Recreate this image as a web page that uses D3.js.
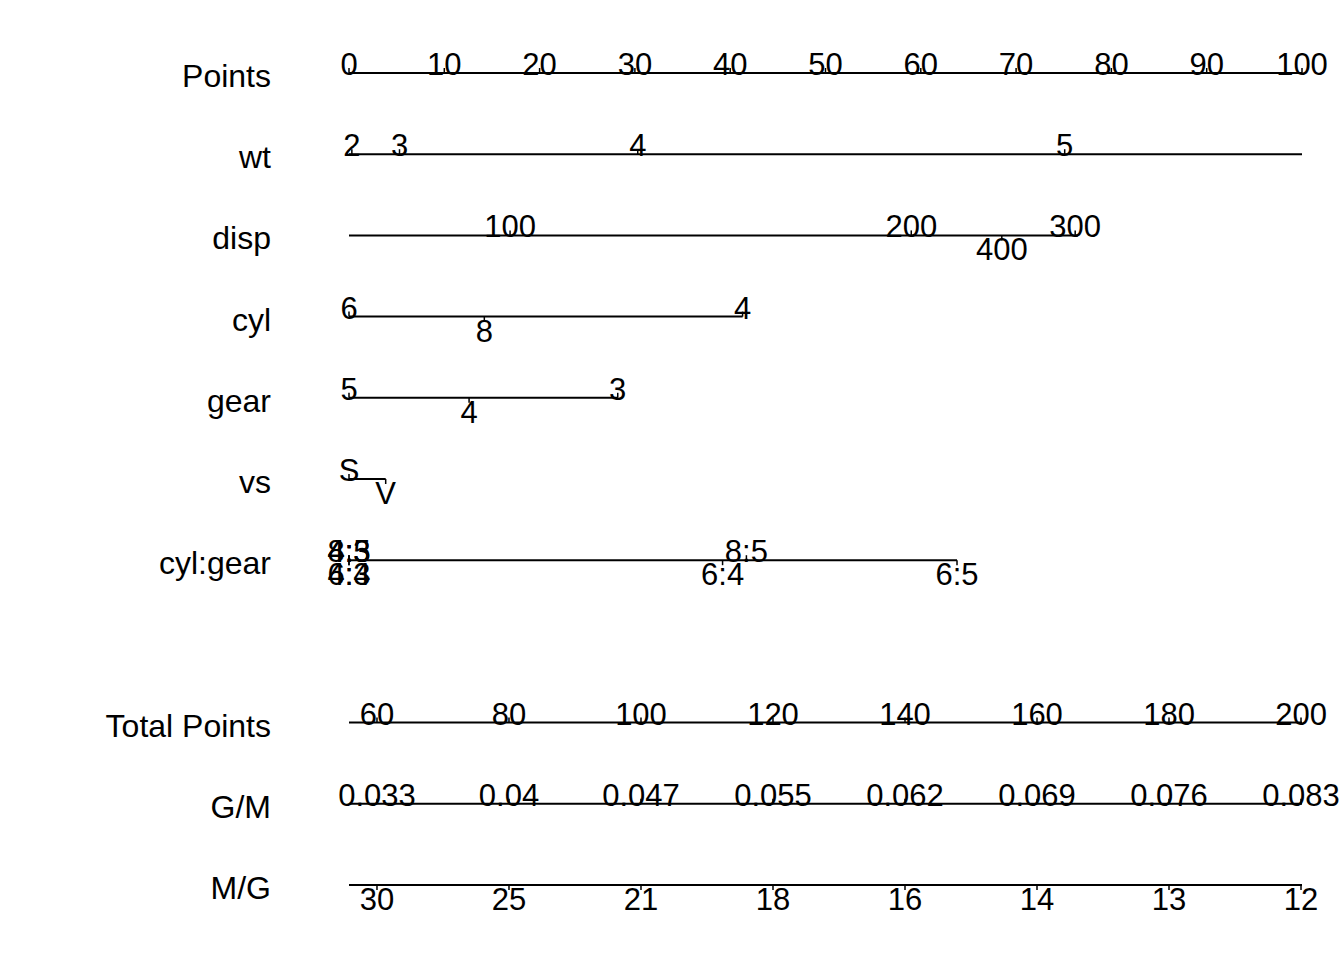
<!DOCTYPE html>
<html lang="en">
<head>
  <meta charset="UTF-8">
  <title>Nomogram with D3.js</title>
  <script src="https://d3js.org/d3.v7.min.js"></script>
  <style>
    body { margin: 0; background: #fff; }
    text { font-family: "Liberation Sans", Arial, sans-serif; fill: #000; }
  </style>
</head>
<body>
  <svg width="1344" height="960"></svg>

  <script>
    // Row names (top to bottom)
    const rowNames = ["Points", "wt", "disp", "cyl", "gear", "vs", "cyl:gear", "Total Points", "G/M", "M/G"];
    const rowSlots = [0, 1, 2, 3, 4, 5, 6, 8, 9, 10];

    // Points axis
    const pointsTicks = [0, 10, 20, 30, 40, 50, 60, 70, 80, 90, 100];

    // Continuous predictors: tick value -> points
    const wtValues = [2, 3, 4, 5];
    const wtPoints = [0.3, 5.3, 30.3, 75.1];
    const wtLine = [0, 100];

    const dispValues = [100, 200, 300, 400];
    const dispPoints = [16.9, 59.0, 76.2, 68.5];
    const dispBelow = [400];
    const dispLine = [0, 76.5];

    // Factor predictors: level -> points
    const cylLevels = ["4", "6", "8"];
    const cylPoints = [41.3, 0, 14.2];

    const gearLevels = ["3", "4", "5"];
    const gearPoints = [28.2, 12.6, 0];

    const vsLevels = ["V", "S"];
    const vsPoints = [3.85, 0];

    const cylGearLevels = ["4:3", "4:4", "4:5", "6:3", "6:4", "6:5", "8:3", "8:5"];
    const cylGearPoints = [0, 0, 0, 0, 39.2, 63.8, 0, 41.7];

    // Total points and transformed outcome scales
    const totalRange = [55.76, 200.15];
    const totalTicks = [60, 80, 100, 120, 140, 160, 180, 200];
    const gmLabels = ["0.033", "0.04", "0.047", "0.055", "0.062", "0.069", "0.076", "0.083"];
    const mgLabels = ["30", "25", "21", "18", "16", "14", "13", "12"];

    // Layout
    const nameSize = 32;
    const tickSize = 31;
    const tickLen = 5;
    const labelRight = 271;

    const svg = d3.select("svg");

    const x = d3.scaleLinear().domain([0, 100]).range([349, 1302]);
    const xTotal = d3.scaleLinear().domain(totalRange).range([349, 1302]);
    const y = d3.scaleLinear().domain([0, 10]).range([73, 885]);

    // Row names on the left
    svg.append("g")
      .selectAll("text")
      .data(rowNames)
      .join("text")
      .attr("x", labelRight)
      .attr("y", (d, i) => y(rowSlots[i]) + 14)
      .attr("text-anchor", "end")
      .style("font-size", nameSize + "px")
      .text(d => d);

    // Generic row: line + ticks + labels above or below
    function drawRow(slot, scale, ticks, extent) {
      const g = svg.append("g").attr("transform", `translate(0,${y(slot)})`);
      g.append("line")
        .attr("x1", scale(extent[0]))
        .attr("x2", scale(extent[1]))
        .attr("stroke", "#000")
        .attr("stroke-width", 2);
      const t = g.selectAll("g.tk")
        .data(ticks)
        .join("g")
        .attr("class", "tk")
        .attr("transform", d => `translate(${scale(d.pos)},0)`);
      t.append("line")
        .attr("y2", d => d.below ? tickLen : -tickLen)
        .attr("stroke", "#000")
        .attr("stroke-width", 1.5);
      t.append("text")
        .attr("y", d => d.below ? 25 : 2)
        .attr("text-anchor", "middle")
        .style("font-size", tickSize + "px")
        .text(d => d.label);
    }

    // Points axis
    drawRow(rowSlots[0], x,
      pointsTicks.map(v => ({ pos: v, label: v, below: false })),
      d3.extent(pointsTicks));

    // Continuous rows
    function contTicks(values, points, below) {
      return values.map((v, i) => ({ pos: points[i], label: v, below: (below || []).includes(v) }));
    }
    drawRow(rowSlots[1], x, contTicks(wtValues, wtPoints), wtLine);
    drawRow(rowSlots[2], x, contTicks(dispValues, dispPoints, dispBelow), dispLine);

    // Factor rows: labels alternate above / below in order of points
    function factorTicks(levels, points) {
      const t = levels.map((l, i) => ({ pos: points[i], label: l }));
      t.sort((a, b) => a.pos - b.pos);
      t.forEach((d, i) => { d.below = i % 2 === 1; });
      return t;
    }
    drawRow(rowSlots[3], x, factorTicks(cylLevels, cylPoints), d3.extent(cylPoints));
    drawRow(rowSlots[4], x, factorTicks(gearLevels, gearPoints), d3.extent(gearPoints));
    drawRow(rowSlots[5], x, factorTicks(vsLevels, vsPoints), d3.extent(vsPoints));
    drawRow(rowSlots[6], x, factorTicks(cylGearLevels, cylGearPoints), d3.extent(cylGearPoints));

    // Total points and outcome scales
    drawRow(rowSlots[7], xTotal,
      totalTicks.map(v => ({ pos: v, label: v, below: false })), totalRange);
    drawRow(rowSlots[8], xTotal,
      totalTicks.map((v, i) => ({ pos: v, label: gmLabels[i], below: false })), totalRange);
    drawRow(rowSlots[9], xTotal,
      totalTicks.map((v, i) => ({ pos: v, label: mgLabels[i], below: true })), totalRange);
  </script>
</body>
</html>
